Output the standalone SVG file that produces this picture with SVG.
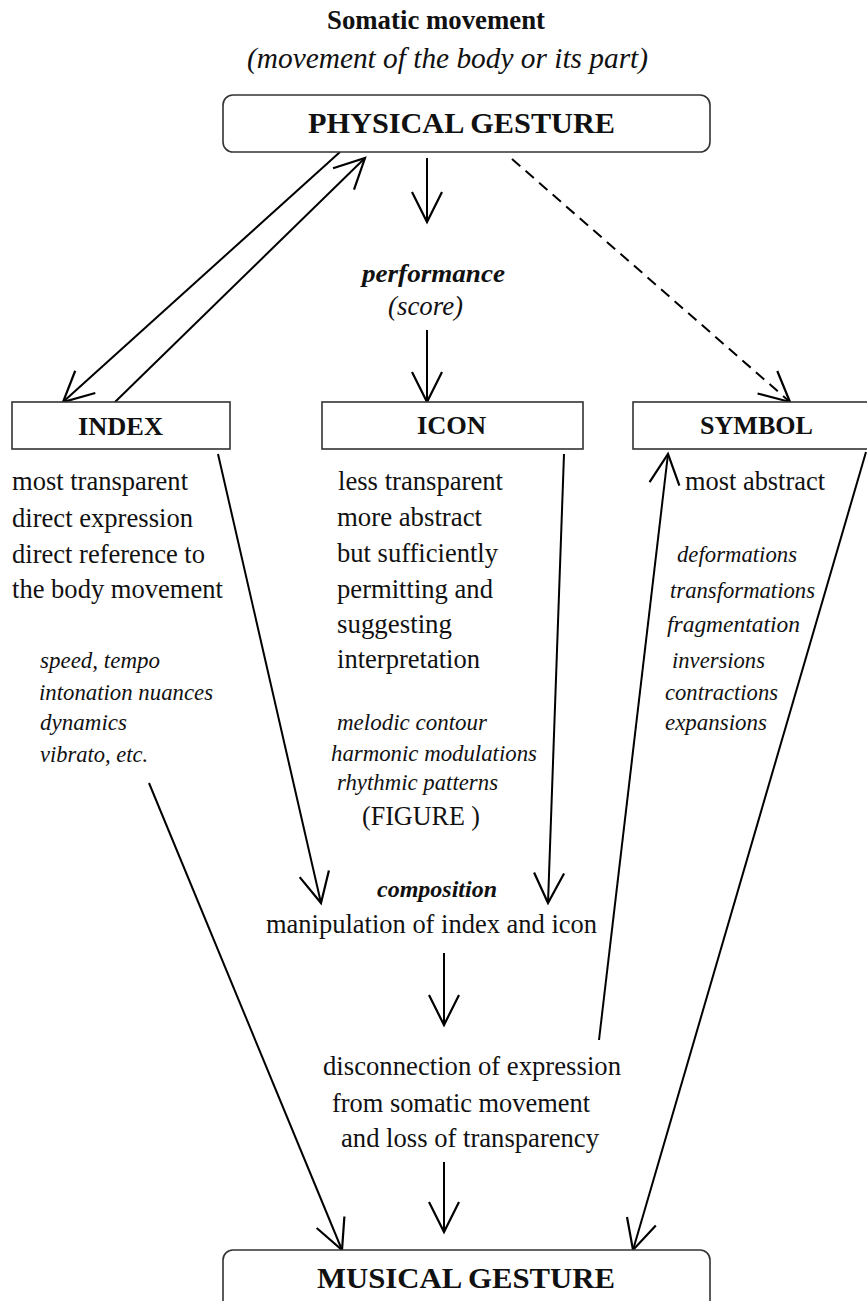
<svg xmlns="http://www.w3.org/2000/svg" width="867" height="1301" viewBox="0 0 867 1301">
  <defs>
    <style>
      .box { fill: #fff; stroke: #333; stroke-width: 1.6; }
      .t { font-family: "Liberation Serif", "Times New Roman", serif; fill: #111; }
      .c { text-anchor: middle; }
      .b { font-weight: bold; }
      .i { font-style: italic; }
      .body { font-size: 26.5px; }
      .small { font-size: 23px; }
      .head { font-size: 26px; font-weight: bold; }
      .conn { fill: none; stroke: #000; stroke-width: 2; marker-end: url(#arrow); }
      .dash { stroke-dasharray: 11 7; }
    </style>
    <!-- open V arrowhead, drawn in user units -->
    <marker id="arrow" viewBox="0 0 32 30" refX="30" refY="15" markerWidth="32" markerHeight="30" markerUnits="userSpaceOnUse" orient="auto" overflow="visible">
      <path d="M0,0 L30,15 L0,30" fill="none" stroke="#000" stroke-width="2.2" stroke-linejoin="miter"/>
    </marker>
  </defs>

  <rect width="867" height="1301" fill="#fff"/>

  <!-- title -->
  <g id="title">
    <text class="t b c" x="436" y="29" font-size="26.5" textLength="218" lengthAdjust="spacingAndGlyphs">Somatic movement</text>
    <text class="t i c" x="447.5" y="68" font-size="29" textLength="401" lengthAdjust="spacingAndGlyphs">(movement of the body or its part)</text>
  </g>

  <!-- connectors -->
  <g id="connectors">
    <line class="conn" x1="427" y1="158" x2="427" y2="222"/>
    <line class="conn" x1="427" y1="330" x2="427" y2="402"/>
    <line class="conn" x1="340" y1="152" x2="63" y2="402"/>
    <line class="conn" x1="115" y1="402" x2="365" y2="158"/>
    <line class="conn dash" x1="512" y1="159" x2="790" y2="402"/>
    <line class="conn" x1="218" y1="454" x2="321" y2="903"/>
    <line class="conn" x1="564" y1="454" x2="548" y2="903"/>
    <line class="conn" x1="444" y1="953" x2="444" y2="1025"/>
    <line class="conn" x1="599" y1="1040" x2="668" y2="454"/>
    <line class="conn" x1="149" y1="783" x2="342" y2="1250"/>
    <line class="conn" x1="444" y1="1162" x2="444" y2="1232"/>
    <line class="conn" x1="866" y1="452" x2="633" y2="1250"/>
  </g>

  <!-- physical gesture -->
  <g id="physical-gesture">
    <rect class="box" x="223" y="95" width="487" height="57" rx="10"/>
    <text class="t b c" x="461.5" y="133" font-size="30" textLength="307" lengthAdjust="spacingAndGlyphs">PHYSICAL GESTURE</text>
  </g>

  <!-- performance -->
  <g id="performance">
    <text class="t b i" x="362" y="282" font-size="26" textLength="143" lengthAdjust="spacingAndGlyphs">performance</text>
    <text class="t i" x="388" y="315" font-size="26.5" textLength="75" lengthAdjust="spacingAndGlyphs">(score)</text>
  </g>

  <!-- index -->
  <g id="index">
    <rect class="box" x="12" y="402" width="218" height="47"/>
    <text class="t head c" x="120.5" y="435" textLength="85" lengthAdjust="spacingAndGlyphs">INDEX</text>
    <g class="t body">
      <text x="12" y="490" textLength="176" lengthAdjust="spacingAndGlyphs">most transparent</text>
      <text x="12" y="527" textLength="181" lengthAdjust="spacingAndGlyphs">direct expression</text>
      <text x="12" y="563" textLength="193" lengthAdjust="spacingAndGlyphs">direct reference to</text>
      <text x="12" y="598" textLength="211" lengthAdjust="spacingAndGlyphs">the body movement</text>
    </g>
    <g class="t i small">
      <text x="40" y="668" textLength="120" lengthAdjust="spacingAndGlyphs">speed, tempo</text>
      <text x="39" y="700" textLength="174" lengthAdjust="spacingAndGlyphs">intonation nuances</text>
      <text x="40" y="730" textLength="87" lengthAdjust="spacingAndGlyphs">dynamics</text>
      <text x="40" y="762" textLength="108" lengthAdjust="spacingAndGlyphs">vibrato, etc.</text>
    </g>
  </g>

  <!-- icon -->
  <g id="icon">
    <rect class="box" x="322" y="402" width="261" height="47"/>
    <text class="t head c" x="451.5" y="434" textLength="69" lengthAdjust="spacingAndGlyphs">ICON</text>
    <g class="t body">
      <text x="338" y="490" textLength="165" lengthAdjust="spacingAndGlyphs">less transparent</text>
      <text x="337" y="526" textLength="145" lengthAdjust="spacingAndGlyphs">more abstract</text>
      <text x="337" y="562" textLength="161" lengthAdjust="spacingAndGlyphs">but sufficiently</text>
      <text x="337" y="598" textLength="156" lengthAdjust="spacingAndGlyphs">permitting and</text>
      <text x="337" y="633" textLength="115" lengthAdjust="spacingAndGlyphs">suggesting</text>
      <text x="337" y="668" textLength="143" lengthAdjust="spacingAndGlyphs">interpretation</text>
    </g>
    <g class="t i small">
      <text x="337" y="730" textLength="150" lengthAdjust="spacingAndGlyphs">melodic contour</text>
      <text x="331" y="761" textLength="206" lengthAdjust="spacingAndGlyphs">harmonic modulations</text>
      <text x="337" y="790" textLength="161" lengthAdjust="spacingAndGlyphs">rhythmic patterns</text>
    </g>
    <text class="t body" x="362" y="825" textLength="118" lengthAdjust="spacingAndGlyphs">(FIGURE )</text>
  </g>

  <!-- symbol -->
  <g id="symbol">
    <rect class="box" x="633" y="402" width="245" height="47"/>
    <text class="t head c" x="756.5" y="434" textLength="113" lengthAdjust="spacingAndGlyphs">SYMBOL</text>
    <text class="t body" x="685" y="490" textLength="140" lengthAdjust="spacingAndGlyphs">most abstract</text>
    <g class="t i small">
      <text x="677" y="562" textLength="120" lengthAdjust="spacingAndGlyphs">deformations</text>
      <text x="670" y="598" textLength="145" lengthAdjust="spacingAndGlyphs">transformations</text>
      <text x="667" y="632" textLength="133" lengthAdjust="spacingAndGlyphs">fragmentation</text>
      <text x="672" y="668" textLength="93" lengthAdjust="spacingAndGlyphs">inversions</text>
      <text x="665" y="700" textLength="113" lengthAdjust="spacingAndGlyphs">contractions</text>
      <text x="665" y="730" textLength="102" lengthAdjust="spacingAndGlyphs">expansions</text>
    </g>
  </g>

  <!-- composition -->
  <g id="composition">
    <text class="t b i" x="377" y="897" font-size="24" textLength="120" lengthAdjust="spacingAndGlyphs">composition</text>
    <text class="t body" x="266" y="933" textLength="331" lengthAdjust="spacingAndGlyphs">manipulation of index and icon</text>
  </g>

  <!-- disconnection -->
  <g id="disconnection">
    <g class="t body">
      <text x="323" y="1075" textLength="298" lengthAdjust="spacingAndGlyphs">disconnection of expression</text>
      <text x="332" y="1112" textLength="258" lengthAdjust="spacingAndGlyphs">from somatic movement</text>
      <text x="341" y="1147" textLength="258" lengthAdjust="spacingAndGlyphs">and loss of transparency</text>
    </g>
  </g>

  <!-- musical gesture -->
  <g id="musical-gesture">
    <rect class="box" x="223" y="1250" width="487" height="80" rx="10"/>
    <text class="t b c" x="466" y="1288" font-size="30" textLength="298" lengthAdjust="spacingAndGlyphs">MUSICAL GESTURE</text>
  </g>
</svg>
